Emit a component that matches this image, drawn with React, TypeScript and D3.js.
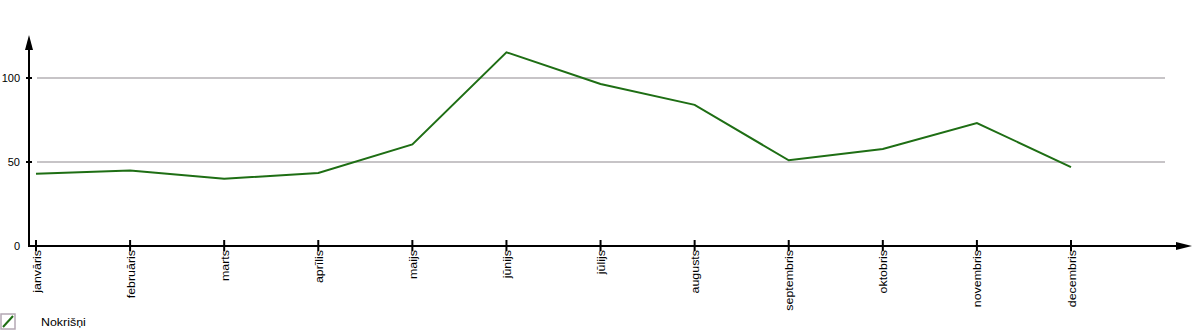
import React from "react";
import * as d3 from "d3";

const months = ["janvāris","februāris","marts","aprīlis","maijs","jūnijs","jūlijs","augusts","septembris","oktobris","novembris","decembris"];
const rainfall = [43, 45, 40, 43.5, 60.5, 115.3, 96.4, 84, 51, 57.7, 73.2, 47];
const yTicks = [0, 50, 100];
const seriesName = "Nokrišņi";

const W = 1200, H = 330;
const font = "'Liberation Sans', Arial, sans-serif";
const stretch = 1.13;

export default function App() {
  const x = d3.scaleLinear().domain([0, 11]).range([36, 1071]);
  const y = d3.scaleLinear().domain([0, 100]).range([246, 78]);
  const line = d3.line<number>().x((_, i) => x(i)).y(d => y(d));
  const axisX = 29, axisY = y(0);
  return (
    <svg width={W} height={H} style={{ position: "absolute", left: 0, top: 0 }} fontFamily={font}>
      {yTicks.filter(t => t > 0).map(t => (
        <line key={"g" + t} x1={37} x2={1165} y1={y(t)} y2={y(t)} stroke="#b4b0b4" strokeWidth={1.5} />
      ))}
      <path d={line(rainfall) || ""} fill="none" stroke="#1e6e14" strokeWidth={2} />
      {/* y axis */}
      <line x1={axisX} x2={axisX} y1={axisY + 1} y2={44} stroke="#000" strokeWidth={2} />
      <path d={`M${axisX},35 L${axisX - 4},50 L${axisX + 4},50 Z`} fill="#000" />
      {/* x axis */}
      <line x1={axisX - 1} x2={1180} y1={axisY} y2={axisY} stroke="#000" strokeWidth={2} />
      <path d={`M1192,${axisY} L1176,${axisY - 4} L1176,${axisY + 4} Z`} fill="#000" />
      {yTicks.map(t => (
        <g key={"y" + t}>
          {t > 0 && <line x1={axisX - 3} x2={axisX + 3} y1={y(t)} y2={y(t)} stroke="#000" strokeWidth={2} />}
          <text x={20} y={y(t)} dy="0.35em" textAnchor="end" fontSize={11} fill="#000">{t}</text>
        </g>
      ))}
      {months.map((m, i) => (
        <g key={m}>
          <line x1={x(i)} x2={x(i)} y1={axisY - 6} y2={axisY + 5} stroke="#000" strokeWidth={2} />
          <text transform={`translate(${x(i) + 4.5},${axisY + 4}) rotate(-90) scale(${stretch},1)`} textAnchor="end" fontSize={11} fill="#000">{m}</text>
        </g>
      ))}
      {/* legend */}
      <rect x={1} y={314} width={14} height={15} fill="#fff" stroke="#b4a8b4" strokeWidth={1.5} />
      <line x1={3} x2={13} y1={327} y2={316} stroke="#1e6e14" strokeWidth={2} />
      <text transform={`translate(41,326) scale(${stretch},1)`} fontSize={11} fill="#000">{seriesName}</text>
    </svg>
  );
}
